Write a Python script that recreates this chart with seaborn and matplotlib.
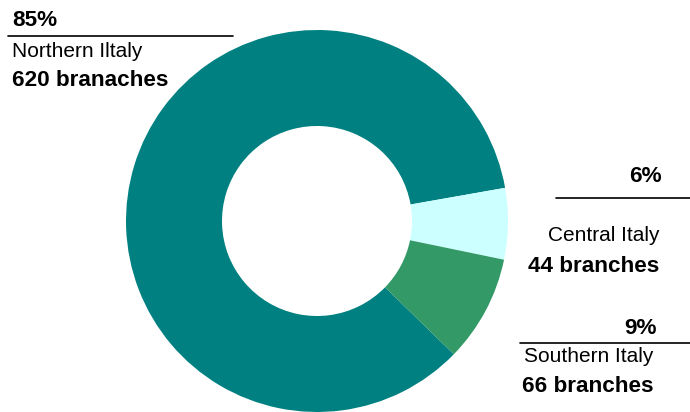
import matplotlib
matplotlib.use("Agg")
import matplotlib.pyplot as plt
import seaborn as sns

regions = ["Northern Iltaly", "Central Italy", "Southern Italy"]
branches = [620, 44, 66]
pct_labels = ["85%", "6%", "9%"]
count_labels = ["620 branaches", "44 branches", "66 branches"]
colors = ["#008080", "#CCFFFF", "#339966"]

sns.set_theme(style="white")
plt.rcParams['font.family'] = ['Liberation Sans', 'DejaVu Sans']
plt.rcParams['text.color'] = 'black'

W, H = 690, 412
fig = plt.figure(figsize=(W / 100, H / 100), dpi=100)
ax = fig.add_axes([0, 0, 1, 1])
ax.set_xlim(0, W)
ax.set_ylim(0, H)
ax.set_aspect('equal')
ax.axis('off')

total = sum(branches)
start = 10 + branches[0] / total * 360
ax.pie(branches, colors=colors, startangle=start, counterclock=False,
       center=(317, H - 221), radius=191,
       wedgeprops=dict(width=96, edgecolor='none', linewidth=0))
ax.set_xlim(0, W)
ax.set_ylim(0, H)

fs = 15
fb = 16.2
def y(v):
    return H - v

# Northern
ax.text(12, y(20), pct_labels[0], fontsize=fb, fontweight='bold', va='center', ha='left')
ax.plot([8, 233], [y(36), y(36)], color='black', lw=1.2)
ax.text(12, y(51), regions[0], fontsize=fs, va='center', ha='left')
ax.text(12, y(80), count_labels[0], fontsize=fb, fontweight='bold', va='center', ha='left')

# Central
ax.text(662, y(176), pct_labels[1], fontsize=fb, fontweight='bold', va='center', ha='right')
ax.plot([556, 690], [y(198), y(198)], color='black', lw=1.2)
ax.text(660, y(235), regions[1], fontsize=fs, va='center', ha='right')
ax.text(659, y(266), count_labels[1], fontsize=fb, fontweight='bold', va='center', ha='right')

# Southern
ax.text(657, y(328), pct_labels[2], fontsize=fb, fontweight='bold', va='center', ha='right')
ax.plot([520, 690], [y(343), y(343)], color='black', lw=1.2)
ax.text(524, y(357), regions[2], fontsize=fs, va='center', ha='left')
ax.text(522, y(387), count_labels[2], fontsize=fb, fontweight='bold', va='center', ha='left')

fig.savefig("out.png", dpi=100)
